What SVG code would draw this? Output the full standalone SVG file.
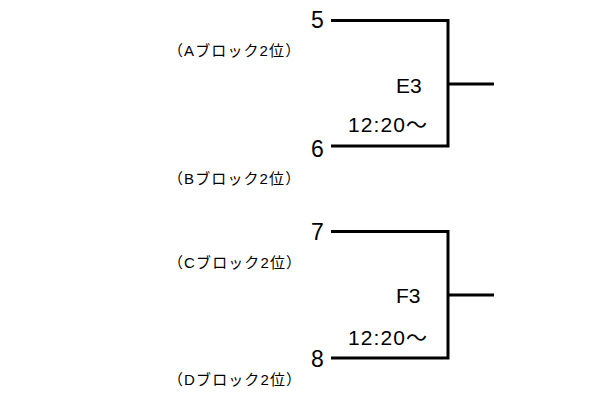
<svg xmlns="http://www.w3.org/2000/svg" width="609" height="398" viewBox="0 0 609 398">
<style>
text{font-family:"Liberation Sans","Noto Sans CJK JP",sans-serif;fill:#000}
.num{font-size:23px}
.lbl{font-size:21px}
.blk{font-size:15px;letter-spacing:1.1px}
.ln{fill:none;stroke:#000;stroke-width:3}
</style>
<rect width="609" height="398" fill="#fff"/>
<g id="connectors">
<path class="ln" d="M331 20.5H448V146H331M448 84H494"/>
<path class="ln" d="M331 231.5H448V358H331M448 295H494"/>
</g>
<g id="seed5"><text class="num" x="311" y="28">5</text></g>
<g id="seed6"><text class="num" x="311" y="157">6</text></g>
<g id="seed7"><text class="num" x="311" y="240">7</text></g>
<g id="seed8"><text class="num" x="311" y="367">8</text></g>
<g id="blockA"><text class="blk" x="168" y="56">（Aブロック2位）</text></g>
<g id="blockB"><text class="blk" x="168" y="184">（Bブロック2位）</text></g>
<g id="blockC"><text class="blk" x="168" y="268">（Cブロック2位）</text></g>
<g id="blockD"><text class="blk" x="168" y="385">（Dブロック2位）</text></g>
<g id="matchE3"><text class="lbl" x="396" y="93">E3</text><text class="lbl" x="348" y="132" textLength="79">12:20〜</text></g>
<g id="matchF3"><text class="lbl" x="396" y="303">F3</text><text class="lbl" x="348" y="345" textLength="79">12:20〜</text></g>
</svg>
